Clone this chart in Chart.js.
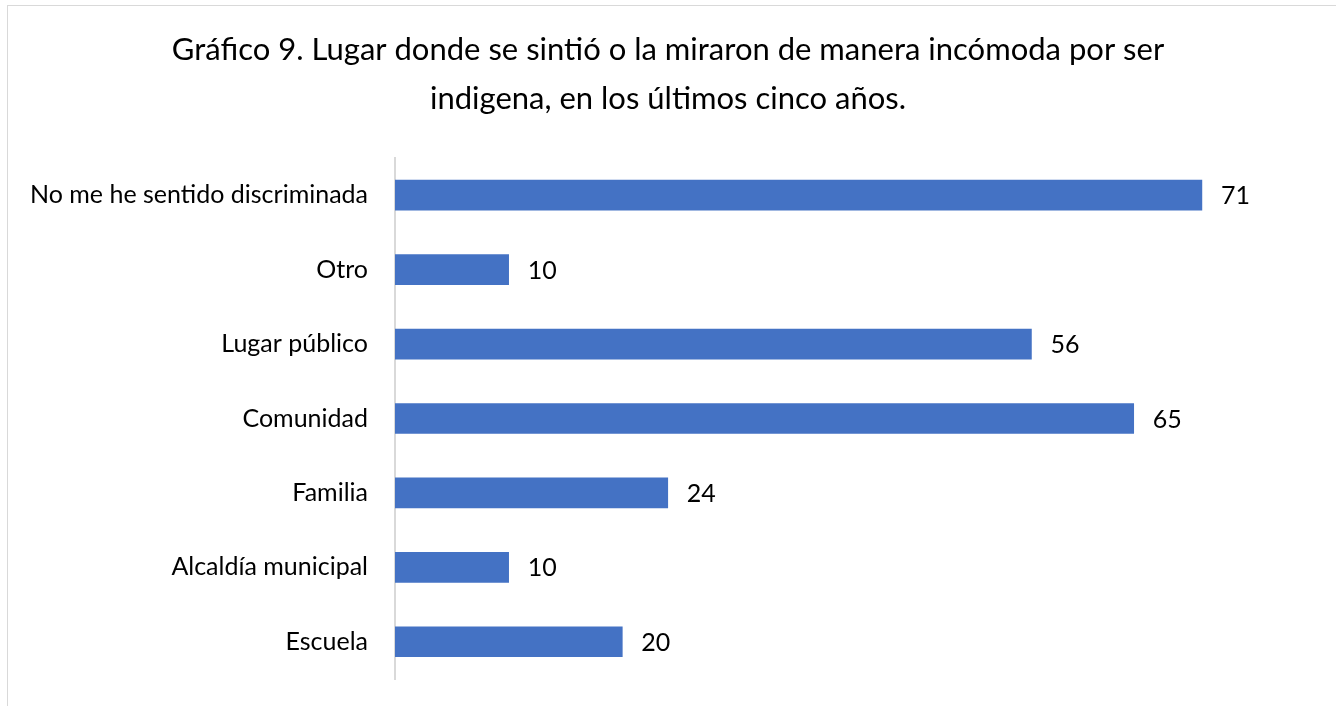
<!DOCTYPE html>
<html>
<head>
<meta charset="utf-8">
<script src="https://cdn.jsdelivr.net/npm/chart.js@4/dist/chart.umd.min.js"></script>
<style>
  html, body { margin: 0; padding: 0; background: #fff; }
  #marco { position: absolute; left: 7px; top: 5px; width: 1400px; height: 800px;
           border-top: 1px solid #d9d9d9; border-left: 1px solid #d9d9d9; }
  #wrap { position: absolute; left: 0; top: 0; width: 1336px; height: 706px; }
</style>
</head>
<body>
<div id="marco"></div>
<div id="wrap"><canvas id="grafico"></canvas></div>
<script>
// Datos del gráfico
const categorias = [
    "No me he sentido discriminada",
    "Otro",
    "Lugar público",
    "Comunidad",
    "Familia",
    "Alcaldía municipal",
    "Escuela"
];
const valores = [71, 10, 56, 65, 24, 10, 20];
const titulo = [
    "Gráfico 9. Lugar donde se sintió o la miraron de manera incómoda por ser",
    "indigena, en los últimos cinco años."
];

const fuente = "Lato, 'Open Sans', sans-serif";

// Etiquetas de valor al final de cada barra
const etiquetasValor = {
    id: "etiquetasValor",
    afterDatasetsDraw(chart) {
        const ctx = chart.ctx;
        const meta = chart.getDatasetMeta(0);
        ctx.save();
        ctx.font = "25px " + fuente;
        ctx.fillStyle = "#000";
        ctx.textAlign = "left";
        ctx.textBaseline = "middle";
        meta.data.forEach((barra, i) => {
            ctx.fillText(String(valores[i]), barra.x + 19, barra.y + 1);
        });
        ctx.restore();
    }
};

const ctx = document.getElementById("grafico").getContext("2d");
const grafico = new Chart(ctx, {
    type: "bar",
    data: {
        labels: categorias,
        datasets: [{
            data: valores,
            backgroundColor: "#4472C4",
            barThickness: 30
        }]
    },
    options: {
        indexAxis: "y",
        responsive: true,
        maintainAspectRatio: false,
        animation: false,
        layout: { padding: { left: 0, right: 0, top: 0, bottom: 27 } },
        plugins: {
            legend: { display: false },
            tooltip: { enabled: false },
            title: {
                display: true,
                text: titulo,
                color: "#000",
                font: { family: fuente, size: 31, weight: "normal", lineHeight: 1.58 },
                padding: { top: 26, bottom: 34 }
            }
        },
        scales: {
            x: {
                display: false,
                min: 0,
                max: 82.8
            },
            y: {
                grid: { display: false },
                border: { display: true, color: "#d9d9d9", width: 2 },
                ticks: {
                    color: "#000",
                    padding: 19,
                    font: { family: fuente, size: 25 }
                },
                afterFit(scale) {
                    scale.width = 395;
                    scale.paddingTop = 0;
                    scale.paddingBottom = 0;
                }
            }
        }
    },
    plugins: [etiquetasValor]
});
</script>
</body>
</html>
